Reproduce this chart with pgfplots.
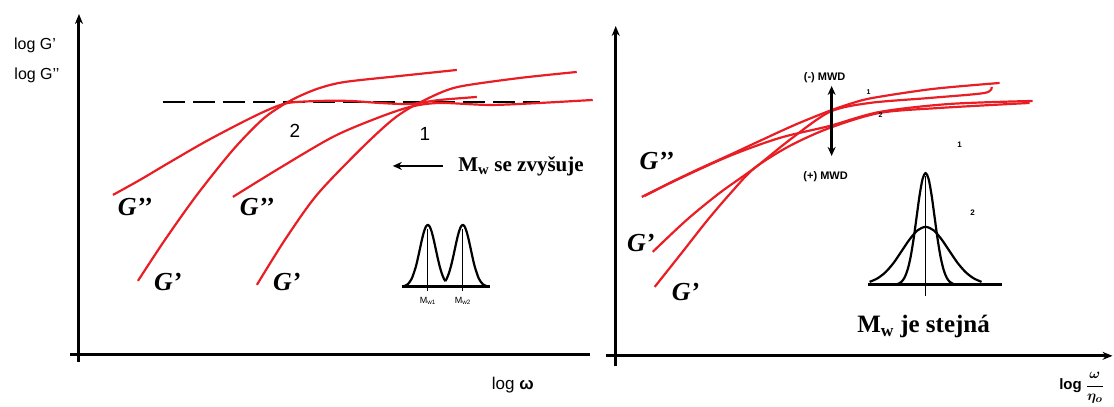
\documentclass[border=0pt]{standalone}
\usepackage{pgfplots}
\pgfplotsset{compat=1.18}
\usetikzlibrary{arrows.meta}
\usepackage{fontspec}
\setmainfont{Liberation Sans}
\newfontfamily\tnr{Liberation Serif}
\definecolor{curvered}{RGB}{232,30,36}
\newcommand\fs[1]{\fontsize{#1bp}{#1bp}\selectfont}

\begin{document}
\begin{tikzpicture}
\begin{axis}[
    scale only axis, width=1114bp, height=407bp,
    xmin=0, xmax=1114, ymin=0, ymax=407, y dir=reverse,
    hide axis, clip=false,
    every axis plot/.append style={line join=round},
]
% page frame
\addplot[draw=none] coordinates {(0,0) (1114,407)};

% ---- left panel axes
\addplot[black, line width=3bp, -{Stealth[length=10bp,width=8bp]}] coordinates {(79,362) (79,14)};
\addplot[black, line width=3bp] coordinates {(70,355) (590,355)};
\addplot[black, line width=2.8bp, dash pattern=on 22bp off 8bp] coordinates {(163,102) (540,102)};

% ---- left panel curves
\addplot[curvered, line width=2.2bp, smooth] coordinates {
    (113,195) (140,180) (167,164) (205,142) (243,122) (268,110) (288,103)
    (320,101) (350,101) (380,103) (410,104) (440,100) (477,97)};
\addplot[curvered, line width=2.2bp, smooth] coordinates {
    (138,281) (165,240) (197,195) (233,150) (262,120) (283,105) (300,96)
    (320,88) (345,82) (400,76) (457,70)};
\addplot[curvered, line width=2.2bp, smooth] coordinates {
    (233,197) (280,168) (333,137) (375,119) (410,107) (440,103) (490,105)
    (540,103) (593,100)};
\addplot[curvered, line width=2.2bp, smooth] coordinates {
    (257,285) (285,240) (317,195) (360,150) (390,122) (410,108) (440,93)
    (463,86) (520,78) (577,72)};

% arrow M_w
\addplot[black, line width=2.6bp, -{Stealth[length=9bp,width=8bp]}] coordinates {(443,166) (393,166)};

% ---- left distributions
\addplot[black, line width=2.8bp] coordinates {(402,287) (490,287)};
\addplot[black, line width=2.2bp, smooth] coordinates {
    (404,286.3) (408,284.3) (412,278.6) (416,266.9) (418,258.6) (420,249.4)
    (422,240.2) (424,232.3) (426,226.9) (428,225) (430,226.9) (432,232.3)
    (434,240.2) (436,249.4) (438,258.6) (440,266.9) (442,273.6) (444,278.6) (445.5,281.3)};
\addplot[black, line width=2.2bp, smooth] coordinates {
    (445.5,281.3) (447,278.6) (449,273.6) (451,266.9) (453,258.6) (455,249.4)
    (457,240.2) (459,232.3) (461,226.9) (463,225) (465,226.9) (467,232.3)
    (469,240.2) (471,249.4) (473,258.6) (475,266.9) (479,278.6) (483,284.3) (487,286.3)};
\addplot[black, line width=1.3bp] coordinates {(428,291) (428,229)};
\addplot[black, line width=1.3bp] coordinates {(463,291) (463,229)};

% ---- right panel axes
\addplot[black, line width=3bp, -{Stealth[length=10bp,width=8bp]}] coordinates {(616,366) (616,26)};
\addplot[black, line width=3bp, -{Stealth[length=10bp,width=8bp]}] coordinates {(606,356) (1113,356)};

% ---- right panel curves
\addplot[curvered, line width=2.2bp, smooth] coordinates {
    (642,197) (670,183) (697,170) (730,155) (760,141) (795,125) (827,112)
    (850,104) (873,98) (933,89) (1000,83)};
\addplot[curvered, line width=2.2bp, smooth] coordinates {
    (645,196) (677,180) (730,156) (780,138) (830,126) (880,112) (950,104) (1033,101)};
\addplot[curvered, line width=2.2bp, smooth] coordinates {
    (653,252) (687,220) (720,193) (755,168) (790,140) (830,112) (870,103)
    (930,98) (985,93) (992,87)};
\addplot[curvered, line width=2.2bp, smooth] coordinates {
    (655,287) (682,253) (708,220) (732,192) (755,168) (790,146) (830,128)
    (880,113) (940,108) (1030,103)};

% MWD arrow
\addplot[black, line width=2.6bp, {Stealth[length=9bp,width=8bp]}-{Stealth[length=9bp,width=8bp]}] coordinates {(832,86) (832,156)};

% ---- right distributions
\addplot[black, line width=2.8bp] coordinates {(868,285) (1002,285)};
\addplot[black, line width=2.2bp, smooth] coordinates {
    (896,284.6) (899,283.8) (902,281.8) (905,277.6) (908,269.8) (911,257.1)
    (914,239) (917,217.1) (920,195.3) (923,179) (926,173) (929,179) (932,195.3)
    (935,217.1) (938,239) (941,257.1) (944,269.8) (947,277.6) (950,281.8)
    (953,283.8) (956,284.6)};
\addplot[black, line width=2.2bp, smooth] coordinates {
    (870,282) (878,278.4) (886,272.2) (894,263) (902,251.3) (910,239.5)
    (918,230.4) (926,227) (934,230.4) (942,239.5) (950,251.3) (958,263)
    (966,272.2) (974,278.4) (982,282)};
\addplot[black, line width=1.3bp] coordinates {(926,296) (926,176)};

\end{axis}

% ---- texts
\begin{scope}[x=1bp, y=-1bp, shift={(0,407bp)}]
\node[font=\fs{16}] at (35,45) {log G’};
\node[font=\fs{16}] at (37,75) {log G’’};
\node[font=\fs{17}] at (513,385) {log \textbf{ω}};
\node[font=\fs{19}] at (295,131) {2};
\node[font=\fs{19}] at (425,134) {1};
\node[font=\tnr\bfseries\fs{21}, anchor=west] at (455,166) {M\textsubscript{w} se zvyšuje};
\node[font=\tnr\bfseries\itshape\fs{26}] at (135,207) {G’’};
\node[font=\tnr\bfseries\itshape\fs{26}] at (168,282) {G’};
\node[font=\tnr\bfseries\itshape\fs{26}] at (257,207) {G’’};
\node[font=\tnr\bfseries\itshape\fs{26}] at (287,282) {G’};
\node[font=\fs{9}] at (428,301) {M\textsubscript{w1}};
\node[font=\fs{9}] at (463,301) {M\textsubscript{w2}};

\node[font=\tnr\bfseries\itshape\fs{26}] at (657,161) {G’’};
\node[font=\tnr\bfseries\itshape\fs{26}] at (641,243) {G’};
\node[font=\tnr\bfseries\itshape\fs{26}] at (686,292) {G’};
\node[font=\bfseries\fs{11}] at (825,78) {(-) MWD};
\node[font=\bfseries\fs{11}] at (826,177) {(+) MWD};
\node[font=\bfseries\fs{7}] at (869,92) {1};
\node[font=\bfseries\fs{7}] at (881,115) {2};
\node[font=\bfseries\fs{8}] at (960,145) {1};
\node[font=\bfseries\fs{8}] at (973,213) {2};
\node[font=\tnr\bfseries\fs{25}] at (924,327) {M\textsubscript{w} je stejná};
\node[font=\bfseries\boldmath\fs{15}] at (1082,388) {log $\displaystyle\frac{\omega}{\eta_o}$};
\end{scope}
\end{tikzpicture}
\end{document}
